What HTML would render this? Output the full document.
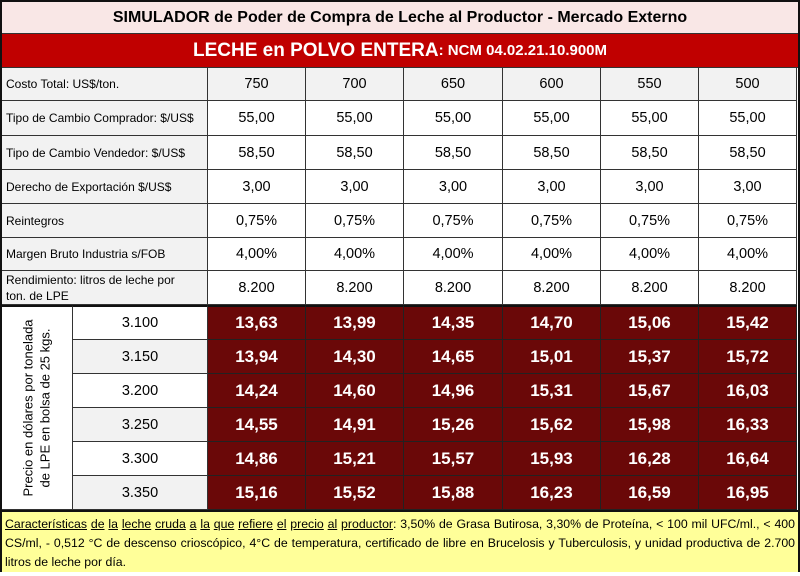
<!DOCTYPE html>
<html><head><meta charset="utf-8"><style>
*{margin:0;padding:0;box-sizing:border-box}
body{width:800px;height:576px;background:#fff;font-family:"Liberation Sans",sans-serif;position:relative;overflow:hidden}
.c{position:absolute;display:flex;align-items:center;justify-content:center;border-right:1px solid #333;border-bottom:1px solid #333;font-size:14.5px;color:#000}
.l{justify-content:flex-start;padding-left:4px;font-size:12px;background:#f2f2f2}
.d{background:#6a0808;color:#fff;font-weight:bold;font-size:17px;border-right:1px solid #222;border-bottom:1px solid #222}
.g{background:#f2f2f2}
</style></head><body>
<div style="position:absolute;left:0;top:0;width:800px;height:572px;border:2px solid #111"></div>
<div class="c" style="left:2px;top:2px;width:796px;height:32px;background:#f9e7e6;font-weight:bold;font-size:16px;border-right:none">SIMULADOR de Poder de Compra de Leche al Productor - Mercado Externo</div>
<div class="c" style="left:2px;top:34px;width:796px;height:34px;background:#c00000;color:#fff;font-weight:bold;font-size:19px;border-right:none"><span>LECHE en POLVO ENTERA</span><span style="font-size:15px">: NCM 04.02.21.10.900M</span></div>
<div id="t"></div>
<div style="position:absolute;left:2px;top:510px;width:796px;height:62px;background:#ffff99;border-top:2px solid #111;font-size:12.3px;line-height:19px;padding:3px 3px;text-align:justify"><u>Características</u> <u>de</u> <u>la</u> <u>leche</u> <u>cruda</u> <u>a</u> <u>la</u> <u>que</u> <u>refiere</u> <u>el</u> <u>precio</u> <u>al</u> <u>productor</u>: 3,50% de Grasa Butirosa, 3,30% de Proteína, &lt; 100 mil UFC/ml., &lt; 400 CS/ml, - 0,512 °C de descenso crioscópico, 4°C de temperatura, certificado de libre en Brucelosis y Tuberculosis, y unidad productiva de 2.700 litros de leche por día.</div>
<script>
var X=[208,306,404,503,601,699,797];
var rows=[["Costo Total: US$/ton.",["750","700","650","600","550","500"],68,101],
["Tipo de Cambio Comprador: $/US$",Array(6).fill("55,00"),101,136],
["Tipo de Cambio Vendedor: $/US$",Array(6).fill("58,50"),136,170],
["Derecho de Exportación $/US$",Array(6).fill("3,00"),170,204],
["Reintegros",Array(6).fill("0,75%"),204,238],
["Margen Bruto Industria s/FOB",Array(6).fill("4,00%"),238,271],
["Rendimiento: litros de leche por<br>ton. de LPE",Array(6).fill("8.200"),271,305]];
var h="";
rows.forEach(function(r,i){
h+='<div class="c l" style="left:2px;top:'+r[2]+'px;width:206px;height:'+(r[3]-r[2])+'px;'+(i==6?'line-height:16px':'')+'">'+r[0]+'</div>';
for(var k=0;k<6;k++)h+='<div class="c'+(i==0?' g':'')+'" style="left:'+X[k]+'px;top:'+r[2]+'px;width:'+(X[k+1]-X[k])+'px;height:'+(r[3]-r[2])+'px">'+r[1][k]+'</div>';
});
var D=[["3.100","13,63","13,99","14,35","14,70","15,06","15,42"],
["3.150","13,94","14,30","14,65","15,01","15,37","15,72"],
["3.200","14,24","14,60","14,96","15,31","15,67","16,03"],
["3.250","14,55","14,91","15,26","15,62","15,98","16,33"],
["3.300","14,86","15,21","15,57","15,93","16,28","16,64"],
["3.350","15,16","15,52","15,88","16,23","16,59","16,95"]];
var Y=[305,340,374,408,442,476,510];
h+='<div class="c" style="left:2px;top:305px;width:71px;height:205px;border-top:2px solid #111"><div style="transform:rotate(-90deg);white-space:nowrap;font-size:13px;text-align:center;line-height:17px">Precio en dólares por tonelada<br>de LPE en bolsa de 25 kgs.</div></div>';
D.forEach(function(r,i){
h+='<div class="c" style="left:73px;top:'+Y[i]+'px;width:135px;height:'+(Y[i+1]-Y[i])+'px;'+(i%2?'background:#f2f2f2;':'')+(i==0?'border-top:2px solid #111':'')+'">'+r[0]+'</div>';
for(var k=0;k<6;k++)h+='<div class="c d" style="left:'+X[k]+'px;top:'+Y[i]+'px;width:'+(X[k+1]-X[k])+'px;height:'+(Y[i+1]-Y[i])+'px;'+(i==0?'border-top:2px solid #111':'')+'">'+r[k+1]+'</div>';
});
document.getElementById('t').innerHTML=h;
</script>
</body></html>
